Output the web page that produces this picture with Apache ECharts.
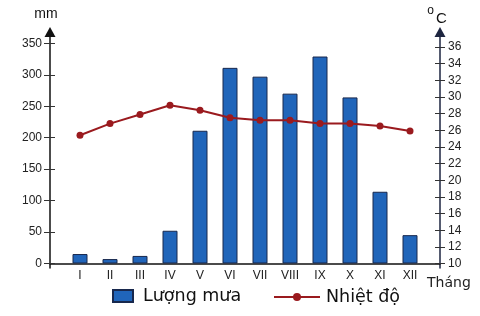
<!DOCTYPE html>
<html><head><meta charset="utf-8">
<script src="https://cdn.jsdelivr.net/npm/echarts@6/dist/echarts.min.js"></script>
<style>html,body{margin:0;padding:0;background:#fff}#c{width:480px;height:316px}</style>
</head><body><div id="c"></div>
<script>
const months = ['I','II','III','IV','V','VI','VII','VIII','IX','X','XI','XII'];
const rainfall = [15, 7, 12, 52, 211, 311, 297, 270, 329, 264, 114, 45];
const temperature = [25.4, 26.8, 27.9, 29.0, 28.4, 27.5, 27.2, 27.2, 26.8, 26.8, 26.5, 25.9];
const rainTicks = [0, 50, 100, 150, 200, 250, 300, 350];
const tempTicks = [10, 12, 14, 16, 18, 20, 22, 24, 26, 28, 30, 32, 34, 36];
const rainName = 'Lượng mưa';
const tempName = 'Nhiệt độ';
const rainUnit = 'mm';
const xName = 'Tháng';

const cats = [''].concat(months, ['']);
const pad = a => [null].concat(a, [null]);
const FONT = 'Liberation Sans, Arial, sans-serif';
const RMIN = -7.2, RMAX = 368, TMIN = 9.46, TMAX = 37.8;

const chart = echarts.init(document.getElementById('c'));
const labelStyle = { color: '#222', fontSize: 12, fontFamily: FONT };
chart.setOption({
  animation: false,
  backgroundColor: '#fff',
  grid: { left: 50, right: 40, top: 32, bottom: 48 },
  legend: [
    { data: [{ name: rainName, icon: 'rect' }], left: 112, top: 287, padding: 0, itemWidth: 20, itemHeight: 12,
      textStyle: { fontSize: 17.5, fontFamily: 'DejaVu Sans, sans-serif', color: '#111', padding: [0, 0, 0, 5] } },
    { data: [tempName], left: 273, top: 288, padding: 0, itemWidth: 46, itemHeight: 10,
      textStyle: { fontSize: 17.5, fontFamily: 'DejaVu Sans, sans-serif', color: '#111', padding: [0, 0, 0, 1] } }
  ],
  xAxis: {
    type: 'category', data: cats, boundaryGap: false,
    axisLine: { onZero: true, onZeroAxisIndex: 0, lineStyle: { color: '#111', width: 1.5 } },
    axisTick: { show: false },
    axisLabel: Object.assign({ interval: 0, margin: 2 }, labelStyle),
    name: xName, nameLocation: 'end', nameGap: -13,
    nameTextStyle: { fontSize: 14, fontFamily: 'DejaVu Sans, sans-serif', color: '#222', verticalAlign: 'top', padding: [13, 0, 0, 0] }
  },
  yAxis: [
    { type: 'value', position: 'left', min: RMIN, max: RMAX, splitLine: { show: false },
      axisLine: { show: true, symbol: ['none', 'triangle'], symbolSize: [11, 10], lineStyle: { color: '#111', width: 1.5 } },
      axisTick: { show: true, length: 6, customValues: rainTicks, lineStyle: { color: '#333' } },
      axisLabel: Object.assign({ customValues: rainTicks, margin: 8 }, labelStyle),
      name: rainUnit, nameLocation: 'end', nameGap: 11,
      nameTextStyle: { fontSize: 14, fontFamily: FONT, color: '#111', padding: [0, 8, 0, 0] } },
    { type: 'value', position: 'right', min: TMIN, max: TMAX, splitLine: { show: false },
      axisLine: { show: true, symbol: ['none', 'triangle'], symbolSize: [11, 10], lineStyle: { color: '#1d2540', width: 1.5 } },
      axisTick: { show: true, length: 5, customValues: tempTicks, lineStyle: { color: '#333' } },
      axisLabel: Object.assign({ customValues: tempTicks, margin: 8 }, labelStyle),
      name: '{o|o}{c|C}', nameLocation: 'end', nameGap: 6,
      nameTextStyle: { rich: {
        o: { fontSize: 12, fontFamily: FONT, color: '#111', verticalAlign: 'bottom', padding: [0, 2, 9, 0] },
        c: { fontSize: 15, fontFamily: FONT, color: '#111', verticalAlign: 'bottom', padding: [0, 6, 0, 0] } } } },
    { type: 'value', position: 'left', min: RMIN, max: RMAX, splitLine: { show: false },
      axisLine: { show: false }, axisLabel: { show: false },
      axisTick: { show: true, inside: true, length: 5, customValues: rainTicks, lineStyle: { color: '#333' } } },
    { type: 'value', position: 'right', min: TMIN, max: TMAX, splitLine: { show: false },
      axisLine: { show: false }, axisLabel: { show: false },
      axisTick: { show: true, inside: true, length: 5, customValues: tempTicks, lineStyle: { color: '#333' } } }
  ],
  series: [
    { name: rainName, type: 'bar', yAxisIndex: 0, data: pad(rainfall), barWidth: 15,
      itemStyle: { color: '#2065ba', borderColor: '#18284d', borderWidth: 1 } },
    { name: tempName, type: 'line', yAxisIndex: 1, data: pad(temperature),
      symbol: 'circle', symbolSize: 7, z: 5,
      lineStyle: { color: '#9a1a1e', width: 2 },
      itemStyle: { color: '#9a1a1e' } }
  ]
});
</script></body></html>
